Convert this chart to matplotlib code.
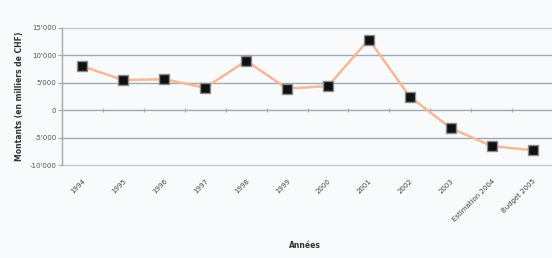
import matplotlib
matplotlib.use("Agg")
import matplotlib.pyplot as plt
from matplotlib.ticker import FuncFormatter

categories = ["1994", "1995", "1996", "1997", "1998", "1999", "2000", "2001",
              "2002", "2003", "Estimation 2004", "Budget 2005"]
values = [8000, 5500, 5650, 4100, 9000, 3950, 4400, 12900, 2450, -3250, -6550, -7300]
yticks = [-10000, -5000, 0, 5000, 10000, 15000]

bg = "#f8fafc"
fig = plt.figure(figsize=(5.52, 2.58), dpi=100, facecolor=bg)
ax = fig.add_axes([62/552, 1-165/258, 491/552, 137/258], facecolor=bg)

x = list(range(len(categories)))
ax.plot(x, values, color="#f7b898", lw=1.8, zorder=3,
        marker="s", ms=6.5, mfc="#111111", mec="#8a8a8a", mew=1.0)

ax.set_xlim(-0.5, len(categories) - 0.5)
ax.set_ylim(-10000, 15000)
ax.set_yticks(yticks)
ax.yaxis.set_major_formatter(FuncFormatter(
    lambda v, p: f"{int(v):,}".replace(",", "'")))
for yv in yticks:
    c = "#c4c9cc" if yv in (15000, -10000) else "#a3a9ac"
    ax.axhline(yv, color=c, lw=1.0, zorder=1, clip_on=False)

for s in ["top", "right", "bottom"]:
    ax.spines[s].set_visible(False)
ax.spines["left"].set_color("#a3a9ac")
ax.spines["left"].set_linewidth(1.0)

ax.tick_params(axis="y", length=3, width=0.8, color="#a3a9ac",
               labelsize=5, labelcolor="#555555", pad=1)
ax.set_xticks(x)
ax.set_xticklabels(categories, rotation=45, ha="right", va="top",
                   rotation_mode="anchor", fontsize=5, color="#444444")
ax.tick_params(axis="x", length=0, pad=9)

sec = ax.secondary_xaxis(0, transform=ax.transData)
sec.set_xticks([i + 0.5 for i in x[:-1]])
sec.set_xticklabels([])
sec.tick_params(length=2.5, width=0.8, color="#a3a9ac", direction="inout")
sec.spines["bottom"].set_visible(False)

ax.set_ylabel("Montants (en milliers de CHF)", fontsize=5.5,
              fontweight="bold", color="#333333", labelpad=4)
ax.yaxis.set_label_coords(-0.077, 0.5)
fig.text(305/552, 1-246/258, "Années", fontsize=5.5, fontweight="bold",
         color="#333333", ha="center", va="center")

fig.savefig("out.png", dpi=100, facecolor=bg)
